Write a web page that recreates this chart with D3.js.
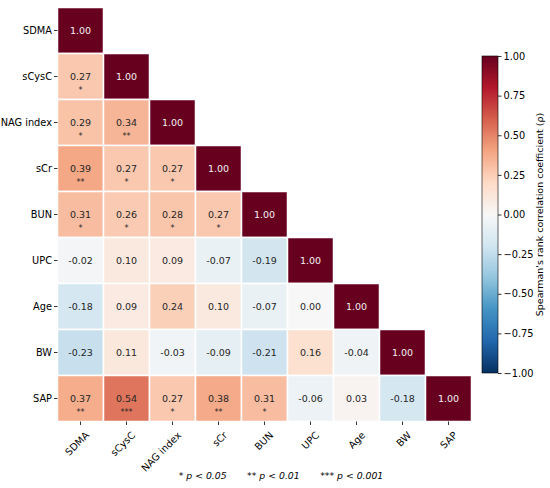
<!DOCTYPE html>
<html>
<head>
<meta charset="utf-8">
<script src="https://cdn.jsdelivr.net/npm/d3@7"></script>
<style>
  body{margin:0;background:#fff;}
  text{font-family:"DejaVu Sans",sans-serif;}
</style>
</head>
<body>
<div id="chart"></div>
<script>
var W=550,H=488;
var vars=["SDMA","sCysC","NAG index","sCr","BUN","UPC","Age","BW","SAP"];
// lower triangle, row by row
var rho=[
  [1.00],
  [0.27,1.00],
  [0.29,0.34,1.00],
  [0.39,0.27,0.27,1.00],
  [0.31,0.26,0.28,0.27,1.00],
  [-0.02,0.10,0.09,-0.07,-0.19,1.00],
  [-0.18,0.09,0.24,0.10,-0.07,0.00,1.00],
  [-0.23,0.11,-0.03,-0.09,-0.21,0.16,-0.04,1.00],
  [0.37,0.54,0.27,0.38,0.31,-0.06,0.03,-0.18,1.00]
];
var stars=[
  [""],
  ["*",""],
  ["*","**",""],
  ["**","*","*",""],
  ["*","*","*","*",""],
  ["","","","","",""],
  ["","","","","","",""],
  ["","","","","","","",""],
  ["**","***","*","**","*","","","",""]
];
var cbTicks=[1,0.75,0.5,0.25,0,-0.25,-0.5,-0.75,-1];
// RdBu_r stops, from -1 to 1
var rdbu=["#053061","#2166ac","#4393c3","#92c5de","#d1e5f0","#f7f7f7","#fddbc7","#f4a582","#d6604d","#b2182b","#67001f"];

var gx0=57.5,gy0=7.5,cell=46;

var svg=d3.select("#chart").append("svg").attr("width",W).attr("height",H);

var x=d3.scaleBand().domain(vars).range([gx0,gx0+cell*vars.length]);
var y=d3.scaleBand().domain(vars).range([gy0,gy0+cell*vars.length]);
var color=d3.scaleLinear()
  .domain(rdbu.map(function(c,i){return -1+2*i/(rdbu.length-1);}))
  .range(rdbu)
  .interpolate(d3.interpolateRgb);

var cells=[];
rho.forEach(function(row,i){
  row.forEach(function(v,j){
    cells.push({r:vars[i],c:vars[j],v:v,s:stars[i][j]});
  });
});

var cg=svg.append("g");
cg.selectAll("rect").data(cells).enter().append("rect")
  .attr("x",function(d){return x(d.c);})
  .attr("y",function(d){return y(d.r);})
  .attr("width",x.bandwidth())
  .attr("height",y.bandwidth())
  .attr("fill",function(d){return color(d.v);})
  .attr("stroke","#fff")
  .attr("stroke-width",1.5);

cg.selectAll("text.val").data(cells).enter().append("text")
  .attr("class","val")
  .attr("x",function(d){return x(d.c)+x.bandwidth()/2;})
  .attr("y",function(d){return y(d.r)+y.bandwidth()/2;})
  .attr("text-anchor","middle")
  .attr("dy","0.35em")
  .style("font-size","9.5px")
  .attr("fill",function(d){return Math.abs(d.v)>0.7?"#f2f2f2":"#262626";})
  .text(function(d){return d.v.toFixed(2);});

cg.selectAll("text.star").data(cells.filter(function(d){return d.s;})).enter().append("text")
  .attr("class","star")
  .attr("x",function(d){return x(d.c)+x.bandwidth()/2;})
  .attr("y",function(d){return y(d.r)+y.bandwidth()/2+16;})
  .attr("text-anchor","middle")
  .style("font-size","8px")
  .attr("fill","#262626")
  .text(function(d){return d.s;});

// axes
var yAxis=svg.append("g").attr("transform","translate("+gx0+",0)")
  .call(d3.axisLeft(y).tickSize(3.5).tickPadding(2));
yAxis.select(".domain").remove();
yAxis.selectAll("text").style("font-size","9.8px").attr("fill","#000");
yAxis.selectAll("line").attr("stroke","#000").attr("stroke-width",0.8);

var xAxis=svg.append("g").attr("transform","translate(0,"+(gy0+cell*vars.length)+")")
  .call(d3.axisBottom(x).tickSize(3.5).tickPadding(2));
xAxis.select(".domain").remove();
xAxis.selectAll("line").attr("stroke","#000").attr("stroke-width",0.8);
xAxis.selectAll("text")
  .style("font-size","9.8px").attr("fill","#000")
  .attr("text-anchor","end")
  .attr("dy","0.35em")
  .attr("transform","translate(3,8) rotate(-45)");

// colorbar
var cbx=482,cby0=56,cby1=373,cbw=16;
var cy=d3.scaleLinear().domain([-1,1]).range([cby1,cby0]);
var defs=svg.append("defs");
var grad=defs.append("linearGradient").attr("id","cbgrad")
  .attr("x1","0").attr("y1","1").attr("x2","0").attr("y2","0");
d3.range(0,1.0001,0.025).forEach(function(t){
  grad.append("stop").attr("offset",t).attr("stop-color",color(-1+2*t));
});
svg.append("rect").attr("x",cbx).attr("y",cby0).attr("width",cbw).attr("height",cby1-cby0)
  .attr("fill","url(#cbgrad)").attr("stroke","#000").attr("stroke-width",0.6);
var cbAxis=svg.append("g").attr("transform","translate("+(cbx+cbw)+",0)")
  .call(d3.axisRight(cy).tickValues(cbTicks).tickSize(3.5).tickPadding(2)
    .tickFormat(function(d){return d3.format(".2f")(d).replace("-","\u2212");}));
cbAxis.select(".domain").remove();
cbAxis.selectAll("text").style("font-size","9.8px").attr("fill","#000");
cbAxis.selectAll("line").attr("stroke","#000").attr("stroke-width",0.8);
svg.append("text")
  .attr("transform","translate(543,"+((cby0+cby1)/2)+") rotate(-90)")
  .attr("text-anchor","middle")
  .style("font-size","9.5px")
  .text("Spearman's rank correlation coefficient (\u03c1)");

// footnote
var notes=["* p < 0.05","** p < 0.01","*** p < 0.001"];
var foot=svg.append("text").attr("x",281).attr("y",479).attr("text-anchor","middle")
  .style("font-size","9.3px").style("font-style","italic");
notes.forEach(function(n,i){
  foot.append("tspan").attr("dx",i?"2.2em":0).text(n);
});
</script>
</body>
</html>
